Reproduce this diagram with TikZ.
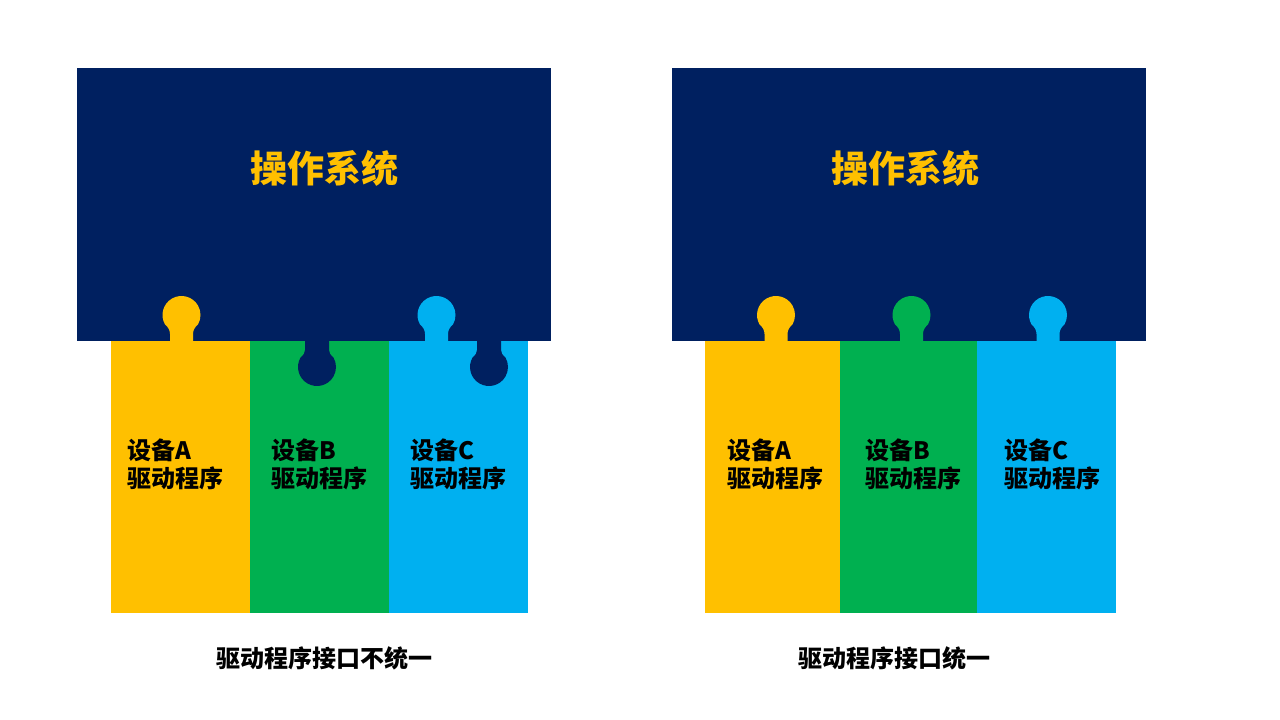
\documentclass[tikz,border=0pt]{standalone}
\usepackage{fontspec}
\setmainfont{Noto Sans CJK SC}
\definecolor{navy}{HTML}{002060}
\definecolor{pyellow}{HTML}{FFC000}
\definecolor{pgreen}{HTML}{00B050}
\definecolor{pblue}{HTML}{00B0F0}
\tikzset{
  title/.style={text=pyellow,font=\fontsize{37}{40}\selectfont\bfseries,inner sep=0pt},
  drv/.style={text=black,font=\fontsize{24}{28}\selectfont\bfseries,align=left,anchor=west,inner sep=0pt},
  caption/.style={text=black,font=\fontsize{24}{28}\selectfont\bfseries,inner sep=0pt},
}
% knob pointing up: colour, centre x
\newcommand{\knobup}[2]{\fill[#1] (#2-11.5,341.5) -- (#2-11.5,334)
  .. controls (#2-11.5,330) and (#2-13.5,327) .. (#2-16.45,324.5)
  arc[start angle=150,end angle=390,radius=19]
  .. controls (#2+13.5,327) and (#2+11.5,330) .. (#2+11.5,334)
  -- (#2+11.5,341.5) -- cycle;}
% hole pointing down: colour, centre x
\newcommand{\holedown}[2]{\fill[#1] (#2-12,340.5) -- (#2-12,350)
  .. controls (#2-12,353) and (#2-13.5,355) .. (#2-16.45,357.5)
  arc[start angle=210,end angle=-30,radius=19]
  .. controls (#2+13.5,355) and (#2+12,353) .. (#2+12,350)
  -- (#2+12,340.5) -- cycle;}
\begin{document}
\begin{tikzpicture}[x=1pt,y=-1pt]
\useasboundingbox (0,0) rectangle (1280,720);
\fill[white] (0,0) rectangle (1280,720);
% ---------- left panel ----------
\fill[navy] (77,68) rectangle (551,341);
\fill[pyellow] (111,341) rectangle (250,613);
\fill[pgreen] (250,341) rectangle (389,613);
\fill[pblue] (389,341) rectangle (528,613);
\knobup{pyellow}{181.5}
\knobup{pblue}{436.5}
\holedown{navy}{317}
\holedown{navy}{489}
\node[title] (osL) at (324,168) {操作系统};
\node[drv] (aL) at (127,464) {设备A\\驱动程序};
\node[drv] (bL) at (271,464) {设备B\\驱动程序};
\node[drv] (cL) at (410,464) {设备C\\驱动程序};
\node[caption] (capL) at (324.5,658) {驱动程序接口不统一};
% ---------- right panel ----------
\fill[navy] (672,68) rectangle (1146,341);
\fill[pyellow] (705,341) rectangle (840,613);
\fill[pgreen] (840,341) rectangle (977,613);
\fill[pblue] (977,341) rectangle (1116,613);
\knobup{pyellow}{776}
\knobup{pgreen}{911.5}
\knobup{pblue}{1048}
\node[title] (osR) at (905,168) {操作系统};
\node[drv] (aR) at (727,464) {设备A\\驱动程序};
\node[drv] (bR) at (865,464) {设备B\\驱动程序};
\node[drv] (cR) at (1004,464) {设备C\\驱动程序};
\node[caption] (capR) at (894,658) {驱动程序接口统一};
\end{tikzpicture}
\end{document}
